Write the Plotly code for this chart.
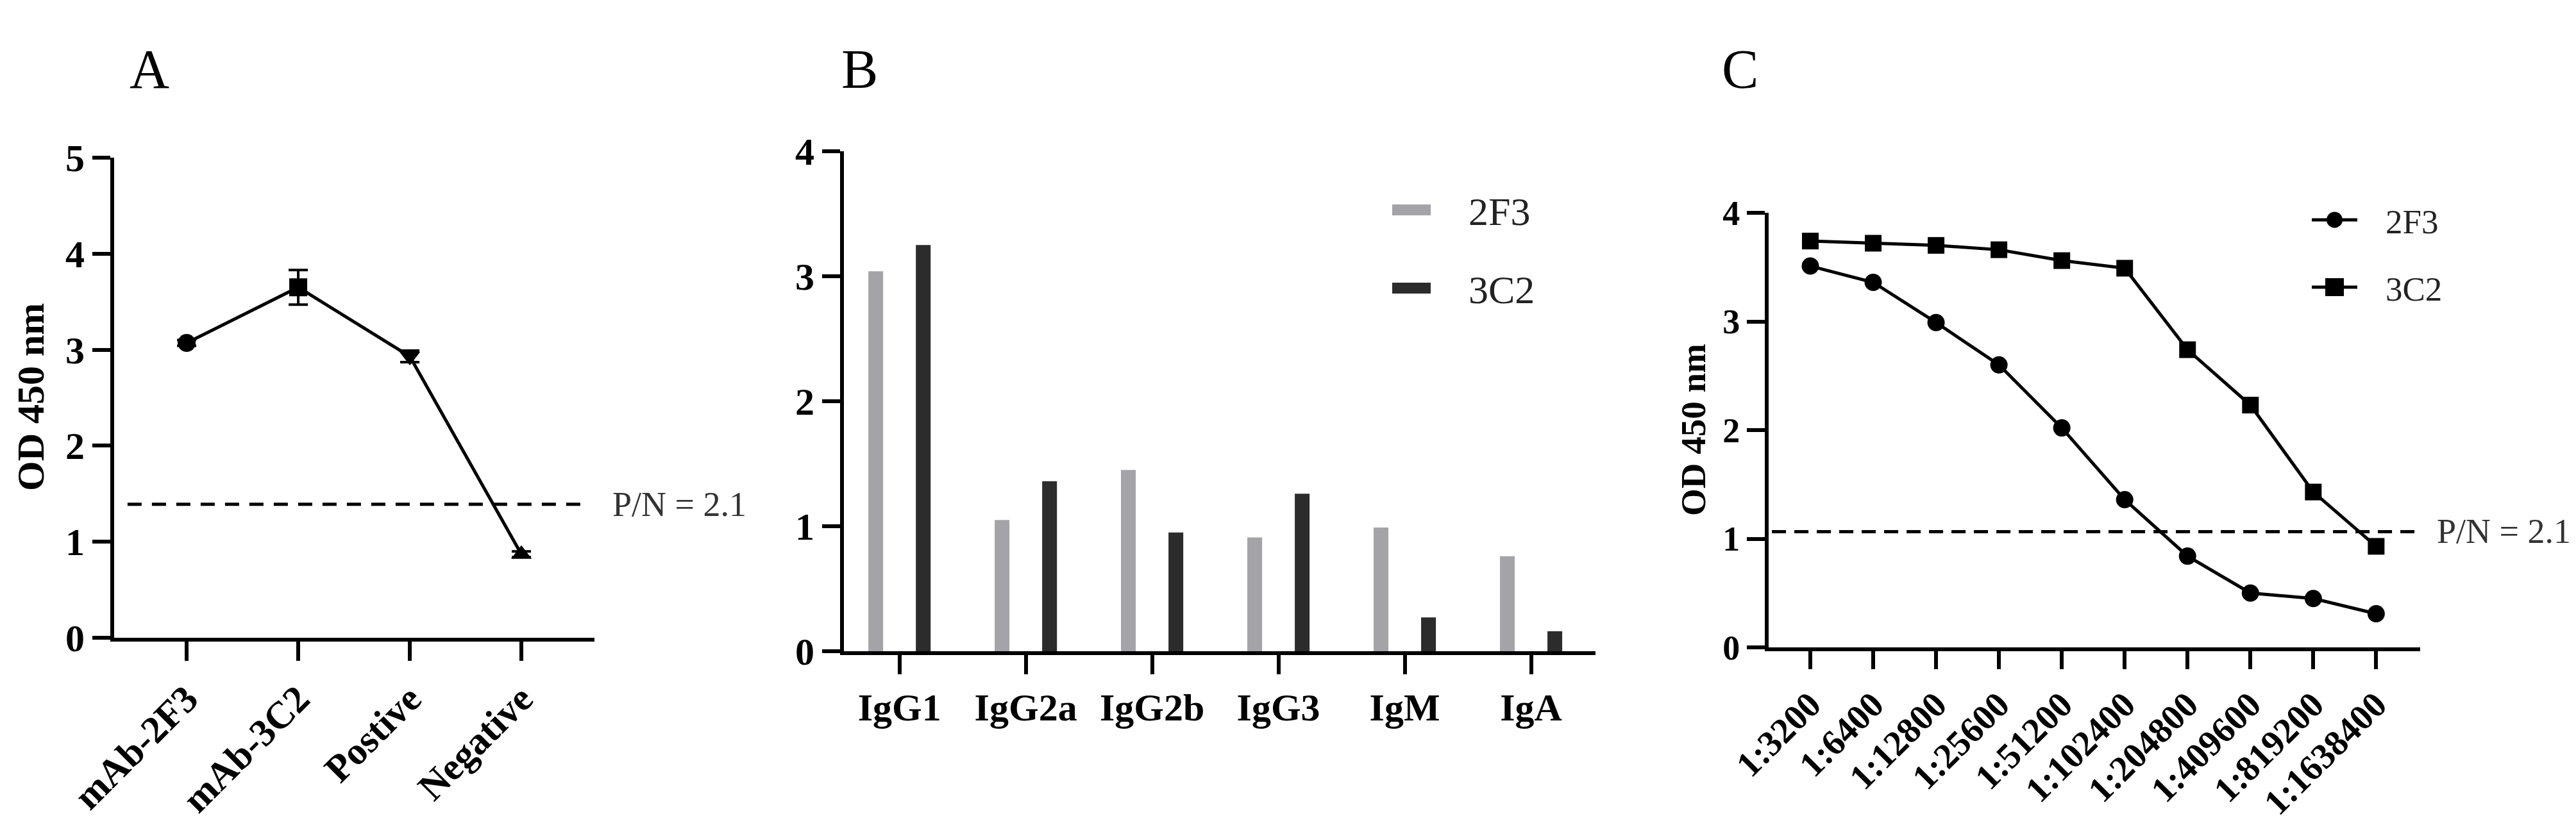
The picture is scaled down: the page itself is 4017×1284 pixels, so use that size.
import plotly.graph_objects as go

W, H = 4017, 1284
FONT = "Liberation Serif"

# ---------------- data ----------------
a_categories = ["mAb-2F3", "mAb-3C2", "Postive", "Negative"]
a_values = [3.07, 3.65, 2.93, 0.87]
a_errors = [0.03, 0.18, 0.06, 0.03]
a_symbols = ["circle", "square", "triangle-down", "triangle-up"]
a_cutoff = 1.39

b_categories = ["IgG1", "IgG2a", "IgG2b", "IgG3", "IgM", "IgA"]
b_2f3 = [3.04, 1.05, 1.45, 0.91, 0.99, 0.76]
b_3c2 = [3.25, 1.36, 0.95, 1.26, 0.27, 0.16]

c_dilutions = ["1:3200", "1:6400", "1:12800", "1:25600", "1:51200",
               "1:102400", "1:204800", "1:409600", "1:819200", "1:1638400"]
c_2f3 = [3.51, 3.36, 2.99, 2.60, 2.02, 1.36, 0.84, 0.50, 0.45, 0.31]
c_3c2 = [3.74, 3.72, 3.70, 3.66, 3.56, 3.49, 2.74, 2.23, 1.43, 0.93]
c_cutoff = 1.065

cutoff_label = "P/N = 2.1"
y_title = "OD 450 nm"


def px(x):
    return x / W


def py(y):
    return 1 - y / H


fig = go.Figure()

# Panel A
fig.add_trace(go.Scatter(
    x=a_categories, y=a_values, mode="lines+markers",
    line=dict(color="black", width=5),
    marker=dict(symbol=a_symbols, size=28, color="black"),
    error_y=dict(type="data", array=a_errors, width=15, thickness=4, color="black"),
    xaxis="x", yaxis="y", showlegend=False, hoverinfo="skip"))

# Panel B
fig.add_trace(go.Bar(
    x=b_categories, y=b_2f3, name="2F3", marker=dict(color="#a4a4a8", line=dict(width=0)),
    width=0.117, offset=-0.2465, xaxis="x2", yaxis="y2", showlegend=False))
fig.add_trace(go.Bar(
    x=b_categories, y=b_3c2, name="3C2", marker=dict(color="#2c2c2c", line=dict(width=0)),
    width=0.117, offset=0.1295, xaxis="x2", yaxis="y2", showlegend=False))

# Panel C
fig.add_trace(go.Scatter(
    x=c_dilutions, y=c_2f3, mode="lines+markers", name="2F3",
    line=dict(color="black", width=5),
    marker=dict(symbol="circle", size=27, color="black"),
    xaxis="x3", yaxis="y3", showlegend=False))
fig.add_trace(go.Scatter(
    x=c_dilutions, y=c_3c2, mode="lines+markers", name="3C2",
    line=dict(color="black", width=5),
    marker=dict(symbol="square", size=26, color="black"),
    xaxis="x3", yaxis="y3", showlegend=False))


def axis_style(size, **kw):
    d = dict(showline=True, linecolor="black", linewidth=6, ticks="outside",
             ticklen=28, tickwidth=6, tickcolor="black", showgrid=False,
             zeroline=False, fixedrange=True, automargin=False,
             tickfont=dict(family=FONT, size=size, color="black", weight="bold"))
    d.update(kw)
    return d


layout = dict(
    width=W, height=H, margin=dict(l=0, r=0, t=0, b=0, autoexpand=False),
    paper_bgcolor="white", plot_bgcolor="white", barmode="overlay",
    showlegend=False, hovermode=False,
    xaxis=axis_style(60, domain=[px(170), px(919)], anchor="y", type="category",
                     range=[-0.65, 3.655], tickangle=-45, ticklen=30),
    yaxis=axis_style(60, domain=[py(987), py(238)], anchor="x", range=[0, 5],
                     tickvals=[0, 1, 2, 3, 4, 5]),
    xaxis2=axis_style(60, domain=[px(1308), px(2480)], anchor="y2", type="category",
                      range=[-0.44, 5.51], ticklen=30),
    yaxis2=axis_style(60, domain=[py(1008), py(228)], anchor="x2", range=[0, 4],
                      tickvals=[0, 1, 2, 3, 4]),
    xaxis3=axis_style(56, domain=[px(2750), px(3766)], anchor="y3", type="category",
                      range=[-0.663, 9.70], tickangle=-45, ticklen=28),
    yaxis3=axis_style(54, domain=[py(1002), py(324)], anchor="x3", range=[0, 4],
                      tickvals=[0, 1, 2, 3, 4]),
)
fig.update_layout(**layout)

shapes = []
# cutoff lines
shapes.append(dict(type="line", xref="x", yref="y", x0=-0.53, x1=3.59,
                   y0=a_cutoff, y1=a_cutoff,
                   line=dict(color="black", width=5, dash="22px,16px")))
shapes.append(dict(type="line", xref="x3 domain", yref="y3", x0=0.005, x1=1,
                   y0=c_cutoff, y1=c_cutoff,
                   line=dict(color="black", width=5, dash="22px,13px")))

# legend B glyphs
shapes.append(dict(type="rect", xref="paper", yref="paper", x0=px(2163), x1=px(2223),
                   y0=py(328), y1=py(311), fillcolor="#a4a4a8", line=dict(width=0)))
shapes.append(dict(type="rect", xref="paper", yref="paper", x0=px(2163), x1=px(2223),
                   y0=py(450), y1=py(433), fillcolor="#2c2c2c", line=dict(width=0)))

# legend C glyphs
for yc in (335, 440):
    shapes.append(dict(type="line", xref="paper", yref="paper", x0=px(3597), x1=px(3668),
                       y0=py(yc), y1=py(yc), line=dict(color="black", width=5)))
shapes.append(dict(type="circle", xref="paper", yref="paper", x0=px(3620), x1=px(3645),
                   y0=py(347.5), y1=py(322.5), fillcolor="black", line=dict(width=0)))
shapes.append(dict(type="rect", xref="paper", yref="paper", x0=px(3618), x1=px(3647),
                   y0=py(454), y1=py(426), fillcolor="black", line=dict(width=0)))
fig.update_layout(shapes=shapes)

ann = []


def text(x, y, s, size, bold=False, color="black", xanchor="center", angle=0):
    ann.append(dict(x=px(x), y=py(y), xref="paper", yref="paper", text=s, showarrow=False,
                    xanchor=xanchor, yanchor="middle", textangle=angle,
                    font=dict(family=FONT, size=size, color=color,
                              weight="bold" if bold else "normal")))


# panel letters
text(225, 100, "A", 86)
text(1332, 100, "B", 86)
text(2705, 100, "C", 86)
# y titles
text(40, 612, y_title, 60, bold=True, angle=-90)
text(2632, 663, y_title, 55, bold=True, angle=-90)
# cutoff labels
text(945, 779, cutoff_label, 54, color="#333333", xanchor="left")
text(3790, 821, cutoff_label, 54, color="#333333", xanchor="left")
# legends
text(2280, 322, "2F3", 62, color="#222222", xanchor="left")
text(2280, 444, "3C2", 62, color="#222222", xanchor="left")
text(3710, 338, "2F3", 53, color="#222222", xanchor="left")
text(3710, 443, "3C2", 53, color="#222222", xanchor="left")
fig.update_layout(annotations=ann)

fig.write_html("out.html", config={"displayModeBar": False})
